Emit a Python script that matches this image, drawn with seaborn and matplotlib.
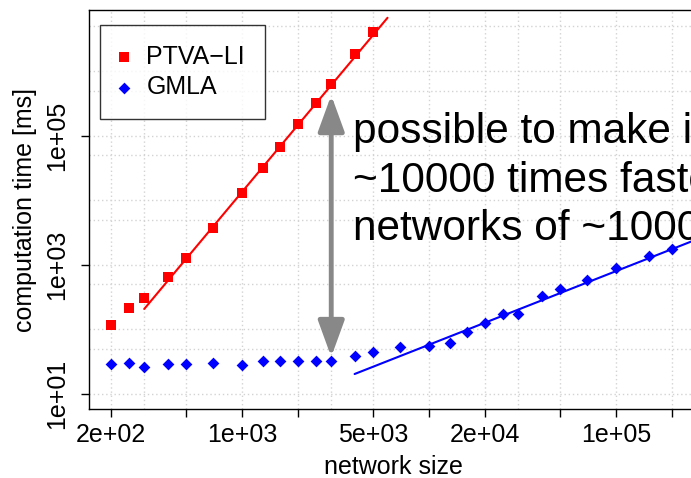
import numpy as np
import pandas as pd
import seaborn as sns
import matplotlib.pyplot as plt
from matplotlib.ticker import FixedLocator, NullLocator
from matplotlib.patches import ArrowStyle

# data
net_ptva = [200, 250, 300, 400, 500, 700, 1000, 1300, 1600, 2000, 2500, 3000, 4000, 5000]
time_ptva = [117, 218, 308, 659, 1300, 3790, 13100, 32300, 68000, 152000, 328000, 640000, 1.85e6, 4.05e6]

net_gmla = [200, 250, 300, 400, 500, 700, 1000, 1300, 1600, 2000, 2500, 3000, 4000, 5000, 7000,
            10000, 13000, 16000, 20000, 25000, 30000, 40000, 50000, 70000, 100000, 150000, 200000]
time_gmla = [28.9, 30.6, 26.5, 28.9, 28.9, 30.6, 28.2, 32.5, 32.5, 32.0, 32.5, 32.5, 38.8, 44.3, 54.1,
             56.1, 62.4, 91.5, 125, 172, 172, 334, 424, 585, 908, 1390, 1770]

# fitted lines (end points)
ptva_fit_x = [300, 6000]
ptva_fit_y = [208, 6.8e6]
gmla_fit_x = [4000, 280000]
gmla_fit_y = [20.4, 2600]

# arrow between the two methods
arrow_x = 3000
arrow_y = [37.5, 4.3e5]

x_ticks = [200, 500, 1000, 2000, 5000, 10000, 20000, 50000, 100000, 200000]
x_labels = ['2e+02', '', '1e+03', '', '5e+03', '', '2e+04', '', '1e+05', '']
y_ticks = [10, 1000, 100000]
y_labels = ['1e+01', '1e+03', '1e+05']

note_lines = ['possible to make it', '~10000 times faster for', 'networks of ~100000 nodes']

df_ptva = pd.DataFrame({'size': net_ptva, 'time': time_ptva})
df_gmla = pd.DataFrame({'size': net_gmla, 'time': time_gmla})

sns.set_style('white')
plt.rcParams['font.family'] = ['Liberation Sans', 'DejaVu Sans']
plt.rcParams['text.color'] = 'black'
plt.rcParams['axes.labelcolor'] = 'black'
plt.rcParams['xtick.color'] = 'black'
plt.rcParams['ytick.color'] = 'black'

W, H = 691, 478
fig = plt.figure(figsize=(W / 100, H / 100), dpi=100)
ax = fig.add_axes([89 / W, 69 / H, 608 / W, 399 / H])
ax.set_xscale('log')
ax.set_yscale('log')
ax.set_xlim(152, 2.71e5)
ax.set_ylim(5.85, 8.98e6)

# grid like R grid() - dotted light gray
for gx in [200, 300, 500, 1000, 2000, 3000, 5000, 10000, 20000, 30000, 50000, 100000, 200000]:
    ax.axvline(gx, color='#d3d3d3', lw=1, ls=(0, (1, 2)), zorder=0)
for gy in [10, 50, 100, 500, 1000, 5000, 1e4, 5e4, 1e5, 5e5, 1e6, 5e6]:
    ax.axhline(gy, color='#d3d3d3', lw=1, ls=(0, (1, 2)), zorder=0)

sns.lineplot(x=ptva_fit_x, y=ptva_fit_y, color='#ff0000', lw=1.5, ax=ax, legend=False, zorder=2)
sns.lineplot(x=gmla_fit_x, y=gmla_fit_y, color='#0000ff', lw=1.5, ax=ax, legend=False, zorder=2)
sns.scatterplot(data=df_ptva, x='size', y='time', marker='s', color='#ff0000', s=52,
                linewidth=0, ax=ax, label='PTVA\u2212LI', zorder=3)
sns.scatterplot(data=df_gmla, x='size', y='time', marker='D', color='#0000ff', s=36,
                linewidth=0, ax=ax, label='GMLA', zorder=3)

ax.annotate('', xy=(arrow_x, arrow_y[1]), xytext=(arrow_x, arrow_y[0]),
            arrowprops=dict(arrowstyle=ArrowStyle('<|-|>', head_length=1.1, head_width=0.4),
                            mutation_scale=20, color='#888888', lw=3.5,
                            shrinkA=0, shrinkB=0), zorder=4)

ax.xaxis.set_major_locator(FixedLocator(x_ticks))
ax.xaxis.set_minor_locator(NullLocator())
ax.set_xticklabels(x_labels)
ax.yaxis.set_major_locator(FixedLocator(y_ticks))
ax.yaxis.set_minor_locator(NullLocator())
ax.set_yticklabels(y_labels)
ax.tick_params(axis='both', direction='out', length=6, width=1, color='black',
               labelsize=18, bottom=True, left=True)
ax.tick_params(axis='x', pad=4)
ax.tick_params(axis='y', pad=8)
for lab in ax.get_yticklabels():
    lab.set_rotation(90)
    lab.set_va('center')

for sp in ax.spines.values():
    sp.set_color('black')
    sp.set_linewidth(1)
ax.spines['right'].set_visible(False)

ax.set_xlabel('network size', fontsize=18, labelpad=6)
ax.set_ylabel('computation time [ms]', fontsize=18, labelpad=6)

leg = ax.legend(loc='upper left', bbox_to_anchor=(11 / 608, 1 - 15 / 399), borderaxespad=0,
                fontsize=18, frameon=True, fancybox=False, edgecolor='black',
                handlelength=0.3, handletextpad=0.75, borderpad=0.8, labelspacing=0.25,
                markerscale=1.0)
leg.get_frame().set_linewidth(1)

for i, line in enumerate(note_lines):
    fig.text(353 / W, 1 - (143 + 48.5 * i) / H, line, fontsize=30.5, va='baseline', ha='left')

fig.savefig('out.png', dpi=100)
